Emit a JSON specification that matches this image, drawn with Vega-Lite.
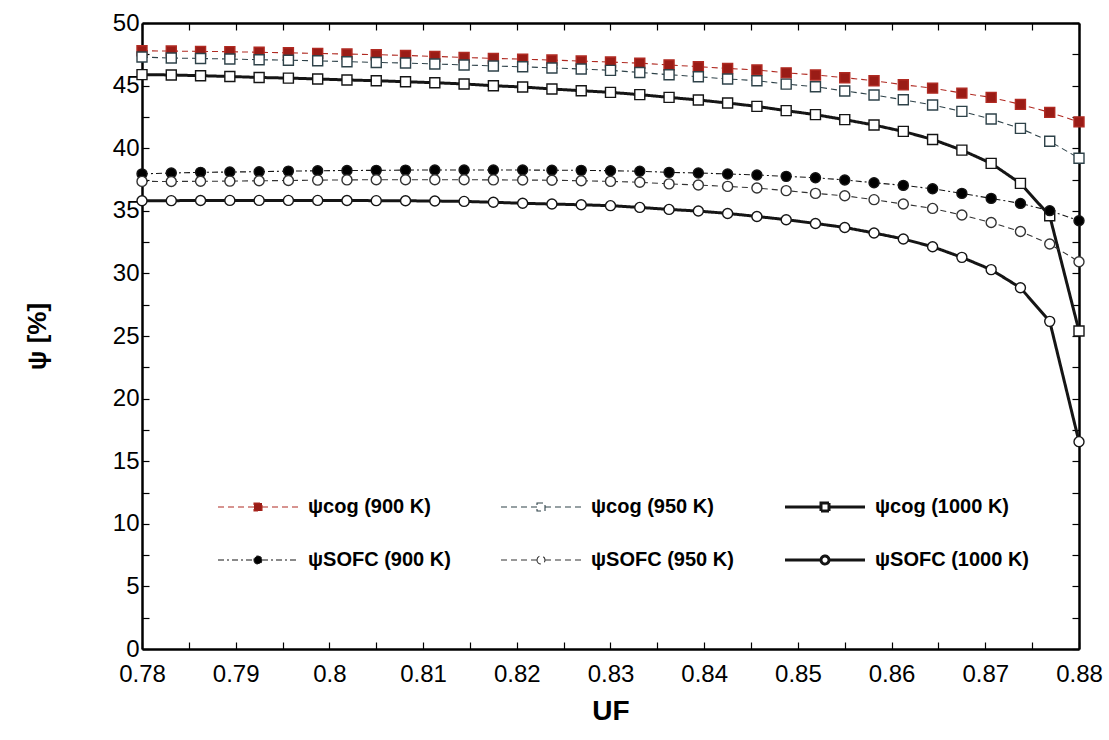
{
  "$schema": "https://vega.github.io/schema/vega-lite/v6.json",
  "width": 937,
  "height": 626,
  "autosize": {"type": "none"},
  "padding": {"left": 142, "top": 23, "right": 30, "bottom": 91},
  "background": "white",
  "config": {"view": {"stroke": null}, "font": "Liberation Sans",
    "legend": {"title": null, "orient": "none", "legendX": 71, "legendY": 474, "direction": "horizontal", "columns": 3, "columnPadding": 45, "rowPadding": 33, "symbolSize": 100, "symbolOffset": 35, "labelOffset": 40, "labelFont": "Liberation Sans", "labelFontSize": 20, "labelFontWeight": "bold", "labelColor": "black", "labelLimit": 400}},
  "data": {"values": [
    {"u": 0.78, "ψcog (900 K)": 47.78, "ψcog (950 K)": 47.28, "ψcog (1000 K)": 45.88, "ψSOFC (900 K)": 37.95, "ψSOFC (950 K)": 37.35, "ψSOFC (1000 K)": 35.8},
    {"u": 0.783125, "ψcog (900 K)": 47.76, "ψcog (950 K)": 47.2, "ψcog (1000 K)": 45.85, "ψSOFC (900 K)": 38.02, "ψSOFC (950 K)": 37.34, "ψSOFC (1000 K)": 35.81},
    {"u": 0.78625, "ψcog (900 K)": 47.73, "ψcog (950 K)": 47.17, "ψcog (1000 K)": 45.79, "ψSOFC (900 K)": 38.07, "ψSOFC (950 K)": 37.36, "ψSOFC (1000 K)": 35.82},
    {"u": 0.789375, "ψcog (900 K)": 47.71, "ψcog (950 K)": 47.12, "ψcog (1000 K)": 45.73, "ψSOFC (900 K)": 38.1, "ψSOFC (950 K)": 37.37, "ψSOFC (1000 K)": 35.83},
    {"u": 0.7925, "ψcog (900 K)": 47.66, "ψcog (950 K)": 47.07, "ψcog (1000 K)": 45.65, "ψSOFC (900 K)": 38.12, "ψSOFC (950 K)": 37.4, "ψSOFC (1000 K)": 35.83},
    {"u": 0.795625, "ψcog (900 K)": 47.62, "ψcog (950 K)": 47.03, "ψcog (1000 K)": 45.6, "ψSOFC (900 K)": 38.17, "ψSOFC (950 K)": 37.42, "ψSOFC (1000 K)": 35.83},
    {"u": 0.79875, "ψcog (900 K)": 47.57, "ψcog (950 K)": 46.98, "ψcog (1000 K)": 45.53, "ψSOFC (900 K)": 38.2, "ψSOFC (950 K)": 37.45, "ψSOFC (1000 K)": 35.83},
    {"u": 0.801875, "ψcog (900 K)": 47.52, "ψcog (950 K)": 46.91, "ψcog (1000 K)": 45.45, "ψSOFC (900 K)": 38.22, "ψSOFC (950 K)": 37.47, "ψSOFC (1000 K)": 35.82},
    {"u": 0.805, "ψcog (900 K)": 47.47, "ψcog (950 K)": 46.85, "ψcog (1000 K)": 45.39, "ψSOFC (900 K)": 38.23, "ψSOFC (950 K)": 37.48, "ψSOFC (1000 K)": 35.81},
    {"u": 0.808125, "ψcog (900 K)": 47.41, "ψcog (950 K)": 46.8, "ψcog (1000 K)": 45.31, "ψSOFC (900 K)": 38.25, "ψSOFC (950 K)": 37.48, "ψSOFC (1000 K)": 35.8},
    {"u": 0.81125, "ψcog (900 K)": 47.33, "ψcog (950 K)": 46.73, "ψcog (1000 K)": 45.23, "ψSOFC (900 K)": 38.26, "ψSOFC (950 K)": 37.48, "ψSOFC (1000 K)": 35.78},
    {"u": 0.814375, "ψcog (900 K)": 47.25, "ψcog (950 K)": 46.65, "ψcog (1000 K)": 45.13, "ψSOFC (900 K)": 38.26, "ψSOFC (950 K)": 37.48, "ψSOFC (1000 K)": 35.75},
    {"u": 0.8175, "ψcog (900 K)": 47.17, "ψcog (950 K)": 46.57, "ψcog (1000 K)": 44.99, "ψSOFC (900 K)": 38.26, "ψSOFC (950 K)": 37.47, "ψSOFC (1000 K)": 35.68},
    {"u": 0.820625, "ψcog (900 K)": 47.11, "ψcog (950 K)": 46.5, "ψcog (1000 K)": 44.89, "ψSOFC (900 K)": 38.26, "ψSOFC (950 K)": 37.46, "ψSOFC (1000 K)": 35.6},
    {"u": 0.82375, "ψcog (900 K)": 47.04, "ψcog (950 K)": 46.41, "ψcog (1000 K)": 44.73, "ψSOFC (900 K)": 38.24, "ψSOFC (950 K)": 37.44, "ψSOFC (1000 K)": 35.54},
    {"u": 0.826875, "ψcog (900 K)": 46.96, "ψcog (950 K)": 46.33, "ψcog (1000 K)": 44.59, "ψSOFC (900 K)": 38.23, "ψSOFC (950 K)": 37.4, "ψSOFC (1000 K)": 35.48},
    {"u": 0.83, "ψcog (900 K)": 46.88, "ψcog (950 K)": 46.22, "ψcog (1000 K)": 44.46, "ψSOFC (900 K)": 38.2, "ψSOFC (950 K)": 37.35, "ψSOFC (1000 K)": 35.41},
    {"u": 0.833125, "ψcog (900 K)": 46.79, "ψcog (950 K)": 46.05, "ψcog (1000 K)": 44.28, "ψSOFC (900 K)": 38.16, "ψSOFC (950 K)": 37.28, "ψSOFC (1000 K)": 35.27},
    {"u": 0.83625, "ψcog (900 K)": 46.65, "ψcog (950 K)": 45.87, "ψcog (1000 K)": 44.06, "ψSOFC (900 K)": 38.07, "ψSOFC (950 K)": 37.15, "ψSOFC (1000 K)": 35.11},
    {"u": 0.839375, "ψcog (900 K)": 46.51, "ψcog (950 K)": 45.71, "ψcog (1000 K)": 43.85, "ψSOFC (900 K)": 38.02, "ψSOFC (950 K)": 37.06, "ψSOFC (1000 K)": 34.98},
    {"u": 0.8425, "ψcog (900 K)": 46.37, "ψcog (950 K)": 45.53, "ψcog (1000 K)": 43.61, "ψSOFC (900 K)": 37.94, "ψSOFC (950 K)": 36.95, "ψSOFC (1000 K)": 34.79},
    {"u": 0.845625, "ψcog (900 K)": 46.25, "ψcog (950 K)": 45.39, "ψcog (1000 K)": 43.34, "ψSOFC (900 K)": 37.86, "ψSOFC (950 K)": 36.82, "ψSOFC (1000 K)": 34.55},
    {"u": 0.84875, "ψcog (900 K)": 46.02, "ψcog (950 K)": 45.12, "ψcog (1000 K)": 43.0, "ψSOFC (900 K)": 37.75, "ψSOFC (950 K)": 36.61, "ψSOFC (1000 K)": 34.29},
    {"u": 0.851875, "ψcog (900 K)": 45.85, "ψcog (950 K)": 44.91, "ψcog (1000 K)": 42.68, "ψSOFC (900 K)": 37.64, "ψSOFC (950 K)": 36.39, "ψSOFC (1000 K)": 33.99},
    {"u": 0.855, "ψcog (900 K)": 45.63, "ψcog (950 K)": 44.57, "ψcog (1000 K)": 42.28, "ψSOFC (900 K)": 37.46, "ψSOFC (950 K)": 36.2, "ψSOFC (1000 K)": 33.67},
    {"u": 0.858125, "ψcog (900 K)": 45.39, "ψcog (950 K)": 44.25, "ψcog (1000 K)": 41.85, "ψSOFC (900 K)": 37.24, "ψSOFC (950 K)": 35.89, "ψSOFC (1000 K)": 33.23},
    {"u": 0.86125, "ψcog (900 K)": 45.07, "ψcog (950 K)": 43.87, "ψcog (1000 K)": 41.34, "ψSOFC (900 K)": 37.03, "ψSOFC (950 K)": 35.54, "ψSOFC (1000 K)": 32.75},
    {"u": 0.864375, "ψcog (900 K)": 44.8, "ψcog (950 K)": 43.45, "ψcog (1000 K)": 40.7, "ψSOFC (900 K)": 36.76, "ψSOFC (950 K)": 35.19, "ψSOFC (1000 K)": 32.13},
    {"u": 0.8675, "ψcog (900 K)": 44.4, "ψcog (950 K)": 42.94, "ψcog (1000 K)": 39.85, "ψSOFC (900 K)": 36.39, "ψSOFC (950 K)": 34.66, "ψSOFC (1000 K)": 31.28},
    {"u": 0.870625, "ψcog (900 K)": 44.06, "ψcog (950 K)": 42.33, "ψcog (1000 K)": 38.79, "ψSOFC (900 K)": 35.99, "ψSOFC (950 K)": 34.07, "ψSOFC (1000 K)": 30.3},
    {"u": 0.87375, "ψcog (900 K)": 43.5, "ψcog (950 K)": 41.58, "ψcog (1000 K)": 37.19, "ψSOFC (900 K)": 35.59, "ψSOFC (950 K)": 33.35, "ψSOFC (1000 K)": 28.85},
    {"u": 0.876875, "ψcog (900 K)": 42.86, "ψcog (950 K)": 40.55, "ψcog (1000 K)": 34.6, "ψSOFC (900 K)": 35.01, "ψSOFC (950 K)": 32.35, "ψSOFC (1000 K)": 26.17},
    {"u": 0.88, "ψcog (900 K)": 42.1, "ψcog (950 K)": 39.2, "ψcog (1000 K)": 25.4, "ψSOFC (900 K)": 34.21, "ψSOFC (950 K)": 30.93, "ψSOFC (1000 K)": 16.56}
  ]},
  "transform": [
    {"fold": ["ψcog (900 K)", "ψcog (950 K)", "ψcog (1000 K)", "ψSOFC (900 K)", "ψSOFC (950 K)", "ψSOFC (1000 K)"], "as": ["series", "psi"]}
  ],
  "layer": [
    {
      "mark": {"type": "line"},
      "encoding": {
        "x": {"field": "u", "type": "quantitative", "scale": {"domain": [0.78, 0.88], "nice": false, "zero": false},
          "axis": {"orient": "bottom", "values": [0.78, 0.785, 0.79, 0.795, 0.8, 0.805, 0.81, 0.815, 0.82, 0.825, 0.83, 0.835, 0.84, 0.845, 0.85, 0.855, 0.86, 0.865, 0.87, 0.875, 0.88],
            "format": "~g", "labelExpr": "round(datum.value*1000) % 10 == 0 ? datum.label : ''",
            "grid": false, "tickSize": -7, "tickColor": "black", "tickWidth": 1.2, "domainColor": "black", "domainWidth": 2.5,
            "labelFont": "Liberation Sans", "labelFontSize": 24, "labelColor": "black", "labelPadding": 20, "labelOverlap": false, "labelFlush": false,
            "title": "UF", "titleFont": "Liberation Sans", "titleFontSize": 28, "titleFontWeight": "bold", "titleColor": "black", "titlePadding": 11}},
        "y": {"field": "psi", "type": "quantitative", "scale": {"domain": [0, 50], "nice": false},
          "axis": {"orient": "left", "values": [0, 2.5, 5, 7.5, 10, 12.5, 15, 17.5, 20, 22.5, 25, 27.5, 30, 32.5, 35, 37.5, 40, 42.5, 45, 47.5, 50],
            "format": "~g", "labelExpr": "datum.value % 5 == 0 ? datum.label : ''",
            "grid": false, "tickSize": -7, "tickColor": "black", "tickWidth": 1.2, "domainColor": "black", "domainWidth": 2.5,
            "labelFont": "Liberation Sans", "labelFontSize": 24, "labelColor": "black", "labelPadding": 10, "labelOverlap": false, "labelFlush": false,
            "title": "ψ [%]", "titleFont": "Liberation Sans", "titleFontSize": 26, "titleFontWeight": "bold", "titleColor": "black", "titlePadding": 62}},
        "stroke": {"field": "series", "type": "nominal",
          "scale": {"domain": ["ψcog (900 K)", "ψcog (950 K)", "ψcog (1000 K)", "ψSOFC (900 K)", "ψSOFC (950 K)", "ψSOFC (1000 K)"], "range": ["#b02a22", "#2e4249", "#151515", "#151515", "#333333", "#151515"]},
          "legend": {"encode": {"symbols": {"update": {"shape": {"signal": "indexof(datum.value, 'SOFC') >= 0 ? 'M-8,0H-0.8M0.8,0H8M-0.8,0A0.8,0.8 0 1,0 0.8,0A0.8,0.8 0 1,0 -0.8,0Z' : 'M-8,0H-0.8M0.8,0H8M-0.8,-0.8H0.8V0.8H-0.8Z'"}}}}}},
        "strokeDash": {"field": "series", "type": "nominal",
          "scale": {"domain": ["ψcog (900 K)", "ψcog (950 K)", "ψcog (1000 K)", "ψSOFC (900 K)", "ψSOFC (950 K)", "ψSOFC (1000 K)"], "range": [[6, 4], [6, 4], [1, 0], [6, 3, 2, 3], [6, 4], [1, 0]]},
          "legend": {"encode": {"symbols": {"update": {"shape": {"signal": "indexof(datum.value, 'SOFC') >= 0 ? 'M-8,0H-0.8M0.8,0H8M-0.8,0A0.8,0.8 0 1,0 0.8,0A0.8,0.8 0 1,0 -0.8,0Z' : 'M-8,0H-0.8M0.8,0H8M-0.8,-0.8H0.8V0.8H-0.8Z'"}}}}}},
        "strokeWidth": {"field": "series", "type": "nominal",
          "scale": {"type": "ordinal", "domain": ["ψcog (900 K)", "ψcog (950 K)", "ψcog (1000 K)", "ψSOFC (900 K)", "ψSOFC (950 K)", "ψSOFC (1000 K)"], "range": [1.1, 1.1, 3, 1.1, 1.1, 3]},
          "legend": {"encode": {"symbols": {"update": {"shape": {"signal": "indexof(datum.value, 'SOFC') >= 0 ? 'M-8,0H-0.8M0.8,0H8M-0.8,0A0.8,0.8 0 1,0 0.8,0A0.8,0.8 0 1,0 -0.8,0Z' : 'M-8,0H-0.8M0.8,0H8M-0.8,-0.8H0.8V0.8H-0.8Z'"}}}}}}
      }
    },
    {
      "mark": {"type": "point", "filled": true, "size": 100, "strokeWidth": 1.4, "opacity": 1},
      "encoding": {
        "x": {"field": "u", "type": "quantitative", "scale": {"domain": [0.78, 0.88], "nice": false, "zero": false},
          "axis": {"orient": "top", "values": [0.78, 0.785, 0.79, 0.795, 0.8, 0.805, 0.81, 0.815, 0.82, 0.825, 0.83, 0.835, 0.84, 0.845, 0.85, 0.855, 0.86, 0.865, 0.87, 0.875, 0.88],
            "labels": false, "title": null, "grid": false, "tickSize": -7, "tickColor": "black", "tickWidth": 1.2, "domainColor": "black", "domainWidth": 2.5}},
        "y": {"field": "psi", "type": "quantitative", "scale": {"domain": [0, 50], "nice": false},
          "axis": {"orient": "right", "values": [0, 2.5, 5, 7.5, 10, 12.5, 15, 17.5, 20, 22.5, 25, 27.5, 30, 32.5, 35, 37.5, 40, 42.5, 45, 47.5, 50],
            "labels": false, "title": null, "grid": false, "tickSize": -7, "tickColor": "black", "tickWidth": 1.2, "domainColor": "black", "domainWidth": 2.5}},
        "shape": {"field": "series", "type": "nominal",
          "scale": {"domain": ["ψSOFC (900 K)", "ψSOFC (950 K)", "ψSOFC (1000 K)", "ψcog (900 K)", "ψcog (950 K)", "ψcog (1000 K)"], "range": ["circle", "circle", "circle", "square", "square", "square"]},
          "legend": null},
        "fill": {"field": "series", "type": "nominal",
          "scale": {"domain": ["ψcog (900 K)", "ψcog (950 K)", "ψcog (1000 K)", "ψSOFC (900 K)", "ψSOFC (950 K)", "ψSOFC (1000 K)"], "range": ["#9a1c16", "#ffffff", "#ffffff", "#000000", "#ffffff", "#ffffff"]},
          "legend": {"encode": {"symbols": {"update": {"shape": {"signal": "indexof(datum.value, 'SOFC') >= 0 ? 'M-8,0H-0.8M0.8,0H8M-0.8,0A0.8,0.8 0 1,0 0.8,0A0.8,0.8 0 1,0 -0.8,0Z' : 'M-8,0H-0.8M0.8,0H8M-0.8,-0.8H0.8V0.8H-0.8Z'"}}}}}},
        "stroke": {"field": "series", "type": "nominal",
          "scale": {"domain": ["ψcog (900 K)", "ψcog (950 K)", "ψcog (1000 K)", "ψSOFC (900 K)", "ψSOFC (950 K)", "ψSOFC (1000 K)"], "range": ["#b02a22", "#2e4249", "#151515", "#151515", "#333333", "#151515"]},
          "legend": {"encode": {"symbols": {"update": {"shape": {"signal": "indexof(datum.value, 'SOFC') >= 0 ? 'M-8,0H-0.8M0.8,0H8M-0.8,0A0.8,0.8 0 1,0 0.8,0A0.8,0.8 0 1,0 -0.8,0Z' : 'M-8,0H-0.8M0.8,0H8M-0.8,-0.8H0.8V0.8H-0.8Z'"}}}}}}
      }
    }
  ],
  "resolve": {"axis": {"x": "independent", "y": "independent"}}
}
